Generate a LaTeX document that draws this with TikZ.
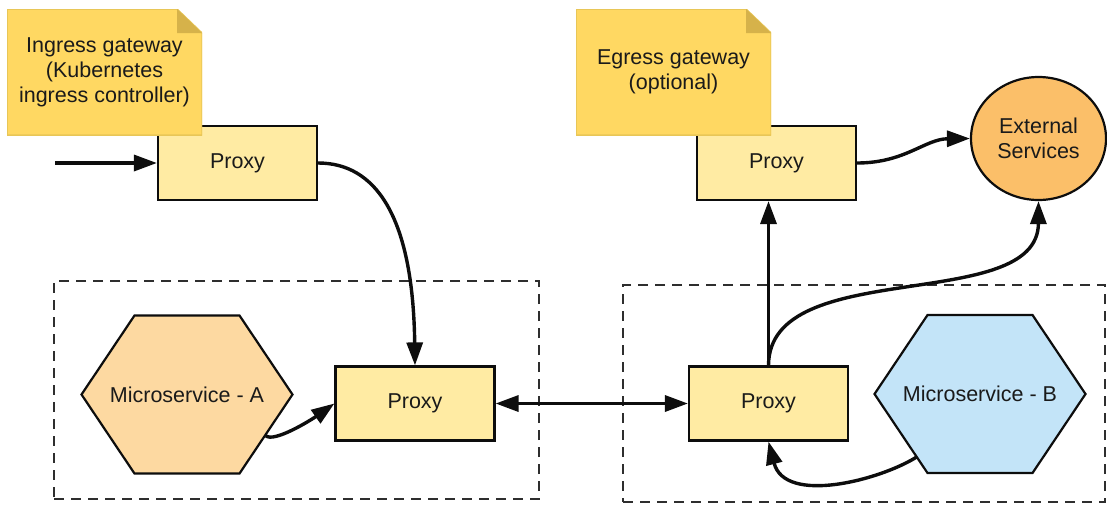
\documentclass[tikz,border=0pt]{standalone}
\usepackage{fontspec}
\setmainfont{Liberation Sans}
\usetikzlibrary{arrows.meta,shapes.geometric,calc}
\definecolor{notecol}{HTML}{FFD862}
\definecolor{foldcol}{HTML}{D6B24A}
\definecolor{notebrd}{HTML}{E8C657}
\definecolor{proxycol}{HTML}{FFEBA3}
\definecolor{hexacol}{HTML}{FDD9A1}
\definecolor{hexbcol}{HTML}{C3E4F8}
\definecolor{extcol}{HTML}{FBBF69}
\definecolor{txtcol}{HTML}{1A1A1A}
\definecolor{linecol}{HTML}{0D0D0D}
\definecolor{dashcol}{HTML}{2E2E2E}
\begin{document}
\begin{tikzpicture}[x=1pt,y=-1pt,
  lbl/.style={font=\fontsize{21.5}{25}\selectfont, text=txtcol, align=center},
  proxybox/.style={lbl, draw=linecol, line width=2.2pt, fill=proxycol,
    minimum width=159, minimum height=74, inner sep=0pt},
  groupbox/.style={draw=dashcol, line width=2.2pt, dash pattern=on 10pt off 7pt,
    inner sep=0pt},
  hexnode/.style={lbl, minimum width=217, minimum height=164, inner sep=0pt,
    path picture={
      \draw[line width=2.2pt, draw=linecol, fill=#1]
        ([xshift=3pt]path picture bounding box.west)
        -- ([xshift=56pt,yshift=-3pt]path picture bounding box.north west)
        -- ([xshift=-56pt,yshift=-3pt]path picture bounding box.north east)
        -- ([xshift=-3pt]path picture bounding box.east)
        -- ([xshift=-56pt,yshift=3pt]path picture bounding box.south east)
        -- ([xshift=56pt,yshift=3pt]path picture bounding box.south west)
        -- cycle;}},
  notebox/.style={lbl, minimum width=195, minimum height=126, inner sep=0pt,
    path picture={
      \fill[notecol]
        (path picture bounding box.south west)
        -- (path picture bounding box.north west)
        -- ([xshift=-25pt]path picture bounding box.north east)
        -- ([yshift=-24pt]path picture bounding box.north east)
        -- (path picture bounding box.south east) -- cycle;
      \draw[notebrd, line width=1.5pt]
        (path picture bounding box.south west)
        -- (path picture bounding box.north west)
        -- ([xshift=-25pt]path picture bounding box.north east)
        -- ([yshift=-24pt]path picture bounding box.north east)
        -- (path picture bounding box.south east) -- cycle;
      \fill[foldcol]
        ([xshift=-25pt]path picture bounding box.north east)
        -- ([xshift=-25pt,yshift=-24pt]path picture bounding box.north east)
        -- ([yshift=-24pt]path picture bounding box.north east) -- cycle;}},
  extnode/.style={lbl, ellipse, draw=linecol, line width=2.2pt, fill=extcol,
    minimum width=135, minimum height=123, inner sep=0pt},
  arr/.style={draw=linecol, line width=3.4pt, -{Triangle[length=23pt,width=16pt]}},
  biarr/.style={draw=linecol, line width=3.4pt,
    {Triangle[length=23pt,width=16pt]}-{Triangle[length=23pt,width=16pt]}}
]
\useasboundingbox (0,0) rectangle (1107,504);

% groups
\node[groupbox, minimum width=485, minimum height=218] (podA) at (296.5,390) {};
\node[groupbox, minimum width=482, minimum height=217] (podB) at (864,393.5) {};

% proxies
\node[proxybox] (ingproxy) at (237.5,163) {Proxy};
\node[proxybox] (egproxy) at (776.5,163) {Proxy};
\node[proxybox] (proxyA) at (415,403.5) {Proxy};
\node[proxybox] (proxyB) at (768.5,403.5) {Proxy};

% microservices
\node[hexnode=hexacol] (hexA) at (187,394.5) {Microservice - A};
\node[hexnode=hexbcol] (hexB) at (980,394) {Microservice - B};

% external
\node[extnode] (ext) at (1038.5,138.5) {External\\Services};

% notes
\node[notebox] (ingnote) at (104.5,72) {Ingress gateway\\(Kubernetes\\ingress controller)};
\node[notebox] (egnote) at (673.5,72) {Egress gateway\\(optional)};

% connectors
\coordinate (inflow) at (55,163);
\draw[arr] (inflow) -- (ingproxy.west);
\draw[arr] (ingproxy.east) .. controls (375,163) and (413,215) .. (proxyA.north);
\draw[arr] ([xshift=-30pt,yshift=41pt]hexA.south east) .. controls (274,443) and (311,420) .. (proxyA.west);
\draw[biarr] (proxyA.east) -- (proxyB.west);
\draw[arr] (proxyB.north) -- (proxyB.north |- egproxy.south);
\draw[arr] (proxyB.north) .. controls (769,255) and (1038,315) .. (ext.south);
\draw[arr] (egproxy.east) .. controls (905,163) and (925,139) .. (ext.west);
\draw[arr] ([xshift=45pt,yshift=19pt]hexB.south west) .. controls (880,480) and (785,505) .. (proxyB.south);
\end{tikzpicture}
\end{document}
